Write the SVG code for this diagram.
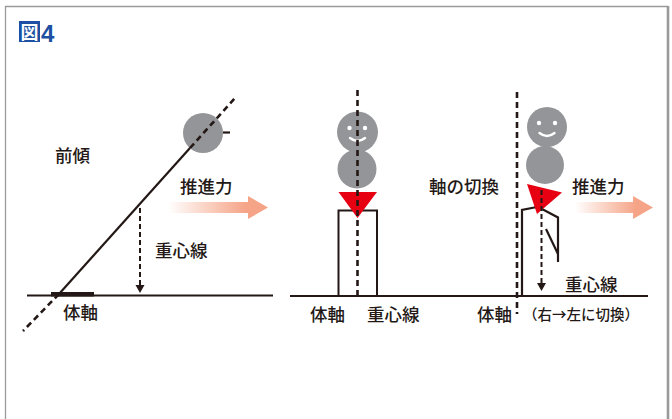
<svg xmlns="http://www.w3.org/2000/svg" width="672" height="419" viewBox="0 0 672 419">
  <style>
    .lbl { font-family: "Noto Sans CJK JP", "Noto Sans", sans-serif; font-size: 17.5px; font-weight: 500; fill: #231815; }
    .small { font-size: 14.5px; }
    .ground { stroke: #231815; stroke-width: 2; fill: none; }
    .solid { stroke: #231815; stroke-width: 2.2; fill: none; }
    .axis { stroke: #231815; stroke-width: 2.6; stroke-dasharray: 6 4; fill: none; }
    .cog { stroke: #231815; stroke-width: 2; stroke-dasharray: 5 3; fill: none; }
    .head { fill: #231815; }
    .body { fill: #939598; }
    .face { fill: #ffffff; }
    .smile { stroke: #ffffff; stroke-width: 2.4; fill: none; stroke-linecap: round; }
    .cg { fill: #e60012; }
    .push { fill: url(#pushGrad); }
  </style>
  <defs>
    <linearGradient id="pushGrad" x1="0" y1="0" x2="1" y2="0">
      <stop offset="0" stop-color="#f5a487" stop-opacity="0"/>
      <stop offset="0.78" stop-color="#f5a487" stop-opacity="1"/>
      <stop offset="1" stop-color="#f5a487" stop-opacity="1"/>
    </linearGradient>
  </defs>

  <!-- frame -->
  <path d="M5.5,419 V6.5 H668" fill="none" stroke="#9a9a9a" stroke-width="1.3"/>
  <path d="M668,6 V419" fill="none" stroke="#9a9a9a" stroke-width="2.6"/>

  <!-- title -->
  <g id="title">
    <rect x="19" y="21" width="21" height="21" fill="#1d50a2"/>
    <text x="29.5" y="38.5" text-anchor="middle" font-family="Noto Sans CJK JP, sans-serif" font-weight="bold" font-size="18" fill="#ffffff">図</text>
    <text x="41" y="42" font-family="Liberation Sans, Arial, sans-serif" font-weight="bold" font-size="24" fill="#1d50a2">4</text>
  </g>

  <!-- ground lines -->
  <g id="ground">
    <line class="ground" x1="27" y1="295.5" x2="273" y2="295.5"/>
    <line class="ground" x1="290" y1="296" x2="648" y2="296"/>
  </g>

  <!-- left: forward lean -->
  <g id="lean">
    <rect x="51" y="292" width="43" height="4.5" fill="#231815"/>
    <circle class="body" cx="203" cy="133" r="20"/>
    <line class="solid" x1="59" y1="294" x2="190" y2="148"/>
    <line class="axis" x1="190" y1="148" x2="236" y2="97"/>
    <line class="axis" x1="59" y1="294" x2="23" y2="331"/>
    <line class="solid" x1="223" y1="132.5" x2="230" y2="132.5" stroke-width="2.5"/>
    <text class="lbl" x="55" y="162">前傾</text>
    <text class="lbl" x="63" y="319">体軸</text>
  </g>

  <!-- middle: upright -->
  <g id="upright">
    <rect x="338.5" y="210.5" width="38.5" height="85.5" fill="#ffffff" stroke="#231815" stroke-width="2"/>
    <circle class="body" cx="357" cy="169" r="19.5"/>
    <circle class="body" cx="357.5" cy="132" r="20.5"/>
    <circle class="face" cx="349.5" cy="128" r="2.2"/>
    <circle class="face" cx="365" cy="128" r="2.2"/>
    <path class="smile" d="M350,138 Q357.5,144 365,138"/>
    <path class="cg" d="M338.5,192 L377,192 L357.5,218 Z"/>
    <line class="axis" x1="357.5" y1="90" x2="357.5" y2="296"/>
    <text class="lbl" x="310" y="321">体軸</text>
    <text class="lbl" x="367" y="321">重心線</text>
  </g>

  <!-- right: axis switch -->
  <g id="switch">
    <line class="axis" x1="517" y1="92" x2="517" y2="314"/>
    <circle class="body" cx="545" cy="165" r="19"/>
    <circle class="body" cx="547" cy="127" r="20"/>
    <circle class="face" cx="539" cy="123" r="2.2"/>
    <circle class="face" cx="555" cy="123" r="2.2"/>
    <path class="smile" d="M539.5,133 Q547,139 554.5,133"/>
    <polyline class="solid" points="522,296 522,210 537,207"/>
    <polyline class="solid" points="542,209 558,217.5 558,262"/>
    <line class="solid" x1="546" y1="229" x2="558" y2="254"/>
    <path class="cg" d="M527,184 L562,192.5 L537,214 Z"/>
    <text class="lbl" x="429" y="193">軸の切換</text>
    <text class="lbl" x="477" y="321">体軸</text>
    <text class="lbl small" x="523" y="320">（右→左に切換）</text>
  </g>

  <!-- connectors: centre-of-gravity lines and thrust arrows -->
  <g id="connectors">
    <line class="cog" x1="140" y1="208" x2="140" y2="286"/>
    <path class="head" d="M135.5,285 L144.5,285 L140,293 Z"/>
    <line class="cog" x1="541.5" y1="190" x2="541.5" y2="284"/>
    <path class="head" d="M537,283 L546,283 L541.5,291 Z"/>
    <path class="push" d="M168,202 H248 V196 L268,207.5 L248,219 V213 H168 Z"/>
    <path class="push" d="M575,202 H633 V196 L653,207.5 L633,219 V213 H575 Z"/>
    <text class="lbl" x="180" y="193">推進力</text>
    <text class="lbl" x="155" y="257">重心線</text>
    <text class="lbl" x="572" y="193">推進力</text>
    <text class="lbl" x="565" y="291">重心線</text>
  </g>
</svg>
